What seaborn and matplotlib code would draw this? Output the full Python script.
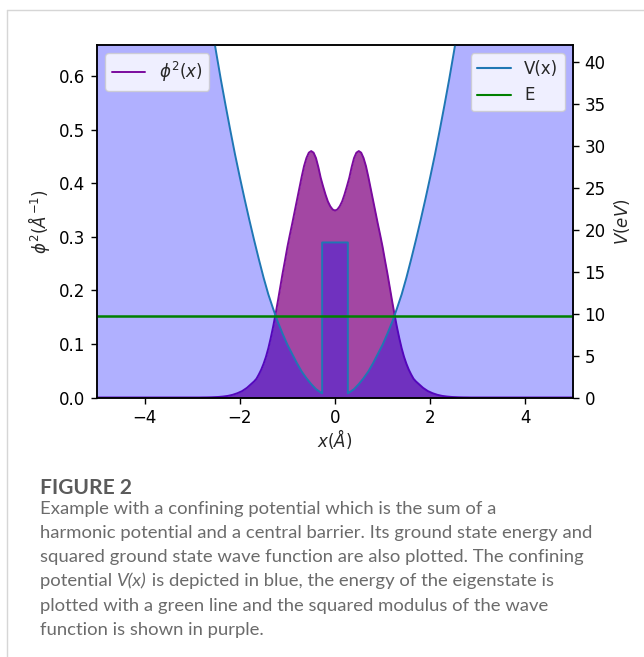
import numpy as np
import pandas as pd
import matplotlib
matplotlib.use("Agg")
import matplotlib.pyplot as plt
import seaborn as sns
from matplotlib.lines import Line2D

# ---------------- data ----------------
x_phi = [-5.0, -4.0,
         -3.00, -2.95, -2.90, -2.85, -2.80, -2.75, -2.70, -2.65, -2.60, -2.55,
         -2.50, -2.45, -2.40, -2.35, -2.30, -2.25, -2.20, -2.15, -2.10, -2.05,
         -2.00, -1.95, -1.90, -1.85, -1.80, -1.75, -1.70, -1.65, -1.60, -1.55,
         -1.50, -1.45, -1.40, -1.35, -1.30, -1.25, -1.20, -1.15, -1.10, -1.05,
         -1.00, -0.95, -0.90, -0.85, -0.80, -0.75, -0.70, -0.65, -0.60, -0.55,
         -0.50, -0.45, -0.40, -0.35, -0.30, -0.25, -0.20, -0.15, -0.10, -0.05,
         0.00,
         0.05, 0.10, 0.15, 0.20, 0.25, 0.30, 0.35, 0.40, 0.45, 0.50,
         0.55, 0.60, 0.65, 0.70, 0.75, 0.80, 0.85, 0.90, 0.95, 1.00,
         1.05, 1.10, 1.15, 1.20, 1.25, 1.30, 1.35, 1.40, 1.45, 1.50,
         1.55, 1.60, 1.65, 1.70, 1.75, 1.80, 1.85, 1.90, 1.95, 2.00,
         2.05, 2.10, 2.15, 2.20, 2.25, 2.30, 2.35, 2.40, 2.45, 2.50,
         2.55, 2.60, 2.65, 2.70, 2.75, 2.80, 2.85, 2.90, 2.95, 3.00,
         4.0, 5.0]
phi2 = [0.0, 0.0,
        0.0, 0.0, 0.0, 0.0, 0.0001, 0.00015, 0.0002, 0.0003, 0.0004, 0.0006,
        0.0008, 0.0010, 0.0014, 0.0018, 0.0024, 0.0030, 0.0040, 0.0050, 0.0065, 0.0080,
        0.0100, 0.0120, 0.0150, 0.0180, 0.0220, 0.0260, 0.0300, 0.0350, 0.0430, 0.0520,
        0.0630, 0.0760, 0.0920, 0.1110, 0.1320, 0.1550, 0.1800, 0.2060, 0.2320, 0.2560,
        0.2810, 0.3030, 0.3240, 0.3460, 0.3680, 0.3900, 0.4120, 0.4320, 0.4470, 0.4570,
        0.4600, 0.4570, 0.4470, 0.4300, 0.4100, 0.3940, 0.3790, 0.3660, 0.3570, 0.3510,
        0.3490,
        0.3510, 0.3570, 0.3660, 0.3790, 0.3940, 0.4100, 0.4300, 0.4470, 0.4570, 0.4600,
        0.4570, 0.4470, 0.4320, 0.4120, 0.3900, 0.3680, 0.3460, 0.3240, 0.3030, 0.2810,
        0.2560, 0.2320, 0.2060, 0.1800, 0.1550, 0.1320, 0.1110, 0.0920, 0.0760, 0.0630,
        0.0520, 0.0430, 0.0350, 0.0300, 0.0260, 0.0220, 0.0180, 0.0150, 0.0120, 0.0100,
        0.0080, 0.0065, 0.0050, 0.0040, 0.0030, 0.0024, 0.0018, 0.0014, 0.0010, 0.0008,
        0.0006, 0.0004, 0.0003, 0.0002, 0.00015, 0.0001, 0.0, 0.0, 0.0, 0.0,
        0.0, 0.0]

v_x = [-5.0, -4.0, -3.0, -2.9, -2.8, -2.7, -2.6, -2.5, -2.4, -2.3, -2.2, -2.1,
       -2.0, -1.9, -1.8, -1.7, -1.6, -1.5, -1.4, -1.3, -1.2, -1.1, -1.0, -0.9,
       -0.8, -0.7, -0.6, -0.5, -0.4, -0.3, -0.27, -0.27, -0.2, -0.1, 0.0,
       0.1, 0.2, 0.27, 0.27, 0.3, 0.4, 0.5, 0.6, 0.7, 0.8, 0.9, 1.0, 1.1, 1.2,
       1.3, 1.4, 1.5, 1.6, 1.7, 1.8, 1.9, 2.0, 2.1, 2.2, 2.3, 2.4, 2.5, 2.6,
       2.7, 2.8, 2.9, 3.0, 4.0, 5.0]
v_vals = [163, 105, 59.3, 55.5, 51.8, 48.2, 44.7, 41.3, 38.0, 34.9, 31.9, 29.0,
          26.3, 23.7, 21.2, 18.8, 16.5, 14.3, 12.3, 10.6, 9.0, 7.6, 6.3, 5.2,
          4.1, 3.1, 2.3, 1.6, 1.0, 0.6, 0.5, 18.5, 18.5, 18.5, 18.5,
          18.5, 18.5, 18.5, 0.5, 0.6, 1.0, 1.6, 2.3, 3.1, 4.1, 5.2, 6.3, 7.6, 9.0,
          10.6, 12.3, 14.3, 16.5, 18.8, 21.2, 23.7, 26.3, 29.0, 31.9, 34.9, 38.0, 41.3, 44.7,
          48.2, 51.8, 55.5, 59.3, 105, 163]

E_level = 9.7
e_x = [-5.0, 5.0]

x_ticks = [-4, -2, 0, 2, 4]
left_ticks = [0.0, 0.1, 0.2, 0.3, 0.4, 0.5, 0.6]
right_ticks = [0, 5, 10, 15, 20, 25, 30, 35, 40]

caption_title = "FIGURE 2"
caption_lines = [
    "Example with a confining potential which is the sum of a",
    "harmonic potential and a central barrier. Its ground state energy and",
    "squared ground state wave function are also plotted. The confining",
    None,  # line with italic V(x)
    "plotted with a green line and the squared modulus of the wave",
    "function is shown in purple.",
]

# ---------------- plotting ----------------
sns.set_style("ticks")
plt.rcParams["font.family"] = ["DejaVu Sans"]
plt.rcParams["font.size"] = 12
plt.rcParams["axes.linewidth"] = 1.1
plt.rcParams["xtick.direction"] = "out"
plt.rcParams["ytick.direction"] = "out"
plt.rcParams["xtick.major.size"] = 4.2
plt.rcParams["ytick.major.size"] = 4.2
plt.rcParams["xtick.major.width"] = 1.0
plt.rcParams["ytick.major.width"] = 1.0

W, H = 644, 657
fig = plt.figure(figsize=(W / 100, H / 100), dpi=100)
fig.patch.set_facecolor("white")

L, R, T, B = 97, 573, 45, 397.5
ax = fig.add_axes([L / W, 1 - B / H, (R - L) / W, (B - T) / H])
ax2 = ax.twinx()

df_phi = pd.DataFrame({"x": x_phi, "phi2": phi2})
df_v = pd.DataFrame({"x": v_x, "V": v_vals})
df_e = pd.DataFrame({"x": e_x, "E": [E_level, E_level]})

phi_color = "#7a0a9e"
ax.fill_between(df_phi["x"], df_phi["phi2"], 0, color="#800080", alpha=0.72, lw=0)
sns.lineplot(data=df_phi, x="x", y="phi2", ax=ax, color=phi_color, lw=1.4,
             estimator=None, sort=False)

ax2.fill_between(df_v["x"], df_v["V"], 0, color="blue", alpha=0.31, lw=0)
sns.lineplot(data=df_v, x="x", y="V", ax=ax2, color="#1f77b4", lw=1.4,
             estimator=None, sort=False)
sns.lineplot(data=df_e, x="x", y="E", ax=ax2, color="green", lw=1.8,
             estimator=None, sort=False)

ax.set_xlim(-5, 5)
ax.set_ylim(0, 0.658)
ax2.set_ylim(0, 42.06)
ax.set_xticks(x_ticks)
ax.set_xticklabels(["\u22124", "\u22122", "0", "2", "4"])
ax.set_yticks(left_ticks)
ax.set_yticklabels([f"{v:.1f}" for v in left_ticks])
ax2.set_yticks(right_ticks)
ax2.set_yticklabels([str(v) for v in right_ticks])
for a in (ax, ax2):
    for s in a.spines.values():
        s.set_visible(True)
        s.set_color("black")
ax.tick_params(axis="both", labelsize=12, colors="black", pad=4)
ax2.tick_params(axis="y", labelsize=12, colors="black", pad=4)

ax.set_xlabel(r"$x(\AA)$", fontsize=12, labelpad=0)
ax.set_ylabel(r"$\phi^2(\AA^{-1})$", fontsize=12, labelpad=5)
ax2.set_ylabel(r"$V(eV)$", fontsize=12, labelpad=5)

h_phi = Line2D([], [], color=phi_color, lw=1.4)
h_v = Line2D([], [], color="#1f77b4", lw=1.5)
h_e = Line2D([], [], color="green", lw=1.5)
leg1 = ax2.legend([h_phi], [r"$\phi^2(x)$"], loc="upper left", fontsize=12,
                  frameon=True, framealpha=0.8, fancybox=True)
leg1.get_frame().set_edgecolor("#cccccc")
leg1.get_frame().set_facecolor("white")
ax2.add_artist(leg1)
leg2 = ax2.legend([h_v, h_e], ["V(x)", "E"], loc="upper right", fontsize=12,
                  frameon=True, framealpha=0.8, fancybox=True)
leg2.get_frame().set_edgecolor("#cccccc")
leg2.get_frame().set_facecolor("white")

# card border
fig.add_artist(Line2D([7 / W, 7 / W], [0, 1 - 10 / H], transform=fig.transFigure,
                      color="#d6d6d6", lw=1.0))
fig.add_artist(Line2D([7 / W, 1], [1 - 10 / H, 1 - 10 / H], transform=fig.transFigure,
                      color="#d6d6d6", lw=1.0))

# caption
cap_font = ["Lato", "DejaVu Sans"]
body_color = "#6b6b6b"
x0 = 40 / W
fig.canvas.draw()
renderer = fig.canvas.get_renderer()

# size the body font so the widest line spans ~550 px as in the reference
probe = fig.text(0, 0, caption_lines[1], fontsize=12, color=body_color,
                 family=cap_font)
pw = probe.get_window_extent(renderer).width
probe.remove()
cap_size = 12 * 550.0 / pw

probe = fig.text(0, 0, caption_title, fontsize=12, family=cap_font, fontweight="bold")
tw = probe.get_window_extent(renderer).width
probe.remove()
title_size = 12 * 92.0 / tw

fig.text(x0, 1 - 488 / H, caption_title, fontsize=title_size, fontweight="bold",
         color="#5b5b5b", family=cap_font, va="center", ha="left")
ys = [509, 533, 557, 581, 606, 630]
for yy, line in zip(ys, caption_lines):
    if line is not None:
        fig.text(x0, 1 - yy / H, line, fontsize=cap_size, color=body_color,
                 family=cap_font, va="center", ha="left")

yy = 1 - ys[3] / H
t1 = fig.text(x0, yy, "potential ", fontsize=cap_size, color=body_color,
              family=cap_font, va="center", ha="left")
bb = t1.get_window_extent(renderer)
x1 = bb.x1 / fig.bbox.width
t2 = fig.text(x1, yy, "V(x)", fontsize=cap_size, color=body_color, style="italic",
              family=cap_font, va="center", ha="left")
bb2 = t2.get_window_extent(renderer)
x2 = bb2.x1 / fig.bbox.width
fig.text(x2, yy, " is depicted in blue, the energy of the eigenstate is",
         fontsize=cap_size, color=body_color, family=cap_font,
         va="center", ha="left")

fig.savefig("out.png", dpi=100, facecolor="white")
